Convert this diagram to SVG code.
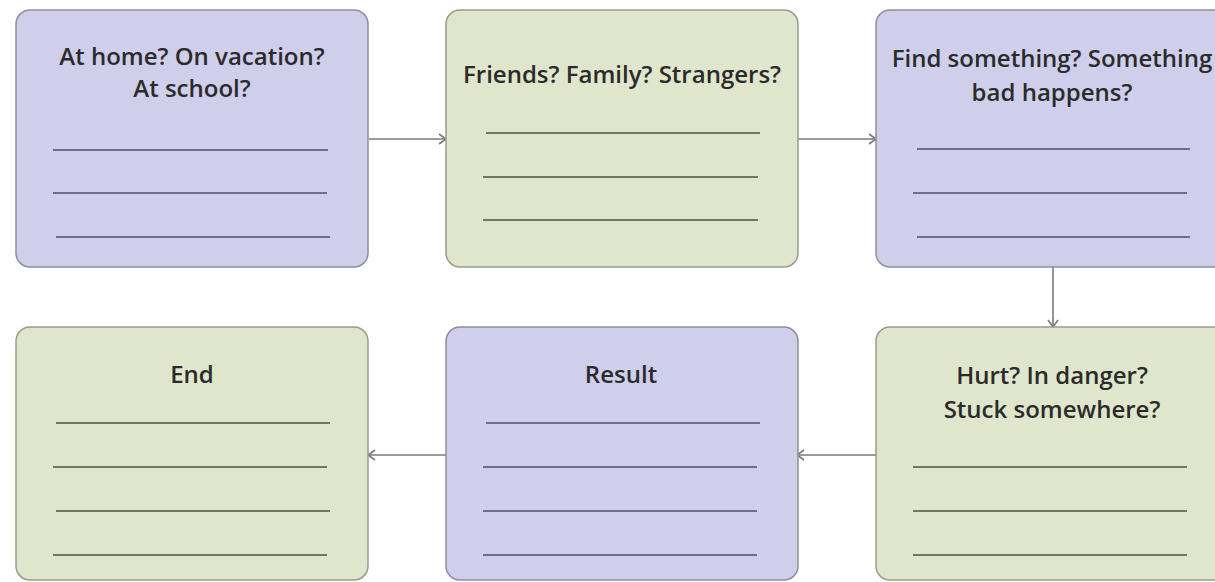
<svg xmlns="http://www.w3.org/2000/svg" width="1215" height="582" viewBox="0 0 1215 582">
  <style>
    .purple { fill: #cfcfeb; stroke: #8e8e9c; stroke-width: 1.5; }
    .green { fill: #dfe6cc; stroke: #979d8c; stroke-width: 1.5; }
    .t { font-family: "Open Sans", "Liberation Sans", sans-serif; font-size: 24px; font-weight: 600; fill: #2b2b2b; text-anchor: middle; }
    .lp { stroke: #6d6f88; stroke-width: 2.2; }
    .lg { stroke: #6f7662; stroke-width: 2.2; }
    .conn { stroke: #7a7a7a; stroke-width: 1.6; fill: none; marker-end: url(#arr); }
  </style>
  <defs>
    <marker id="arr" viewBox="0 0 12 12" refX="11" refY="6" markerWidth="12" markerHeight="12" markerUnits="userSpaceOnUse" orient="auto">
      <path d="M4,1 L11,6 L4,11" fill="none" stroke="#7a7a7a" stroke-width="1.6"/>
    </marker>
  </defs>
  <rect width="1215" height="582" fill="#ffffff"/>

  <g id="connectors">
    <line class="conn" x1="369" y1="139" x2="446" y2="139"/>
    <line class="conn" x1="798" y1="139" x2="876" y2="139"/>
    <line class="conn" x1="1053" y1="267" x2="1053" y2="327"/>
    <line class="conn" x1="876" y1="455" x2="797" y2="455"/>
    <line class="conn" x1="446" y1="455" x2="368" y2="455"/>
  </g>

  <g id="node-setting">
    <rect class="purple" x="16" y="10" width="352" height="257" rx="14"/>
    <text class="t" x="192" y="65">At home? On vacation?</text>
    <text class="t" x="192" y="97">At school?</text>
    <line class="lp" x1="53" y1="150" x2="328" y2="150"/>
    <line class="lp" x1="53" y1="193" x2="327" y2="193"/>
    <line class="lp" x1="56" y1="237" x2="330" y2="237"/>
  </g>

  <g id="node-characters">
    <rect class="green" x="446" y="10" width="352" height="257" rx="14"/>
    <text class="t" x="622" y="83">Friends? Family? Strangers?</text>
    <line class="lg" x1="486" y1="133" x2="760" y2="133"/>
    <line class="lg" x1="483" y1="177" x2="758" y2="177"/>
    <line class="lg" x1="483" y1="220" x2="758" y2="220"/>
  </g>

  <g id="node-event">
    <rect class="purple" x="876" y="10" width="352" height="257" rx="14"/>
    <text class="t" x="1052" y="67">Find something? Something</text>
    <text class="t" x="1052" y="101">bad happens?</text>
    <line class="lp" x1="917" y1="149" x2="1190" y2="149"/>
    <line class="lp" x1="913" y1="193" x2="1187" y2="193"/>
    <line class="lp" x1="917" y1="237" x2="1190" y2="237"/>
  </g>

  <g id="node-problem">
    <rect class="green" x="876" y="327" width="352" height="253" rx="14"/>
    <text class="t" x="1052" y="384">Hurt? In danger?</text>
    <text class="t" x="1052" y="418">Stuck somewhere?</text>
    <line class="lg" x1="913" y1="467" x2="1187" y2="467"/>
    <line class="lg" x1="913" y1="511" x2="1187" y2="511"/>
    <line class="lg" x1="913" y1="555" x2="1187" y2="555"/>
  </g>

  <g id="node-result">
    <rect class="purple" x="446" y="327" width="352" height="253" rx="14"/>
    <text class="t" x="621" y="383">Result</text>
    <line class="lp" x1="486" y1="423" x2="760" y2="423"/>
    <line class="lp" x1="483" y1="467" x2="757" y2="467"/>
    <line class="lp" x1="483" y1="511" x2="757" y2="511"/>
    <line class="lp" x1="483" y1="555" x2="757" y2="555"/>
  </g>

  <g id="node-end">
    <rect class="green" x="16" y="327" width="352" height="253" rx="14"/>
    <text class="t" x="192" y="383">End</text>
    <line class="lg" x1="56" y1="423" x2="330" y2="423"/>
    <line class="lg" x1="53" y1="467" x2="327" y2="467"/>
    <line class="lg" x1="56" y1="511" x2="330" y2="511"/>
    <line class="lg" x1="53" y1="555" x2="327" y2="555"/>
  </g>
</svg>
